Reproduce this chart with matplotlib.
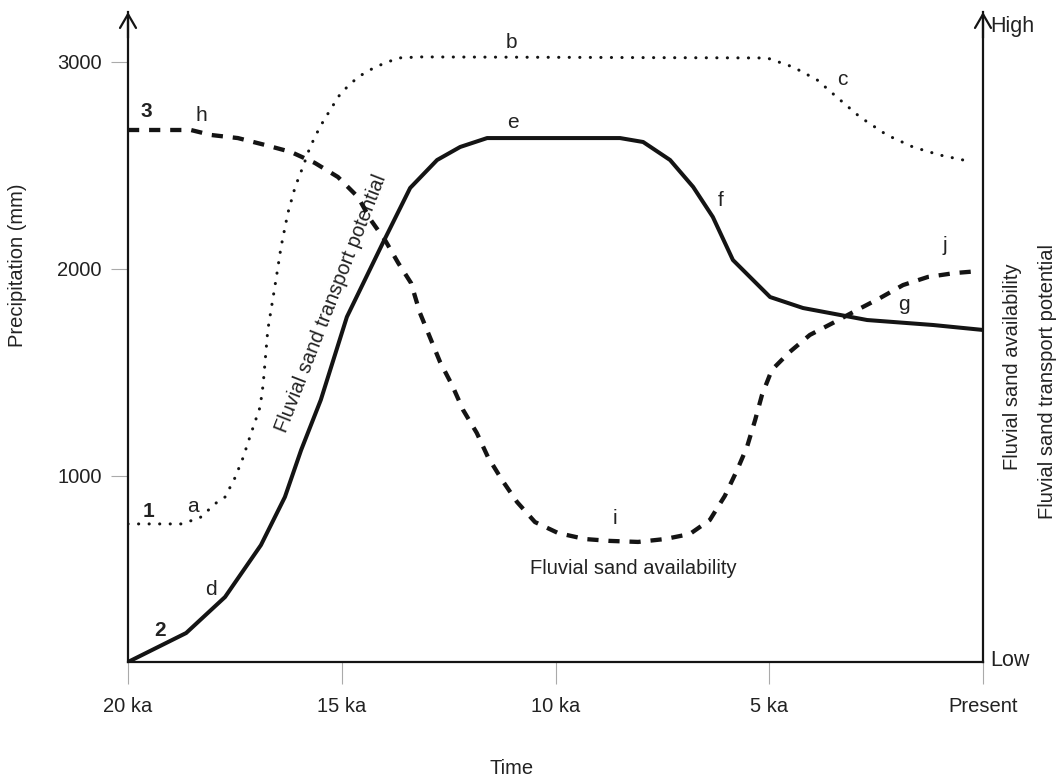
import matplotlib
matplotlib.use('Agg')
import matplotlib.pyplot as plt

plt.rcParams['font.family'] = ['Liberation Sans', 'DejaVu Sans']

# ---- data (time in ka before present, precipitation in mm) ----
precip_t = [20.0, 18.64, 17.73, 16.89, 16.33, 15.95, 15.49, 14.88, 14.04, 13.40,
            12.77, 12.23, 11.60, 8.49, 7.95, 7.32, 6.78, 6.32, 5.85, 4.98,
            4.21, 2.71, 1.17, 0.0]
precip_mm = [100, 240, 414, 665, 897, 1124, 1366, 1767, 2124, 2390,
             2525, 2588, 2631, 2631, 2612, 2525, 2395, 2250, 2042, 1863,
             1810, 1752, 1728, 1704]

transport_t = [20.0, 18.76, 18.32, 17.94, 17.73, 17.50, 17.31, 17.15, 16.91, 16.84,
               16.73, 16.54, 16.42, 16.26, 16.09, 15.91, 15.74, 15.51, 15.27, 15.02,
               14.62, 14.22, 13.68, 13.15, 5.05, 4.44, 3.88, 3.42, 2.88, 2.25,
               1.64, 1.01, 0.35]
transport_v = [767, 767, 796, 868, 897, 989, 1086, 1187, 1332, 1438,
               1704, 1945, 2105, 2269, 2395, 2491, 2588, 2685, 2767, 2849,
               2926, 2974, 3018, 3023, 3018, 2974, 2912, 2829, 2733, 2646,
               2588, 2549, 2520]

avail_t = [20.0, 18.53, 18.06, 17.43, 16.80, 16.19, 15.63, 15.09, 14.62, 14.32,
           13.99, 13.68, 13.38, 13.17, 12.94, 12.70, 12.42, 12.16, 11.84, 11.58,
           11.25, 10.90, 10.48, 9.94, 9.31, 8.73, 8.07, 7.44, 6.86, 6.39,
           6.04, 5.75, 5.52, 5.33, 5.17, 4.94, 4.52, 4.05, 3.51, 2.95,
           2.41, 1.87, 1.29, 0.66, 0.07]
avail_v = [2670, 2670, 2646, 2631, 2598, 2564, 2511, 2443, 2346, 2235,
           2139, 2028, 1931, 1786, 1670, 1549, 1438, 1317, 1206, 1090,
           979, 873, 776, 723, 694, 685, 680, 694, 718, 786,
           902, 1028, 1139, 1269, 1390, 1511, 1598, 1680, 1738, 1800,
           1858, 1921, 1960, 1979, 1989]

x_ticks = [20, 15, 10, 5, 0]
x_labels = ['20 ka', '15 ka', '10 ka', '5 ka', 'Present']
y_ticks = [1000, 2000, 3000]

# curve letter labels: (text, t, value, bold)
letters = [('3', 19.56, 2757, True), ('h', 18.29, 2738, False),
           ('b', 11.02, 3095, False), ('c', 3.28, 2912, False),
           ('e', 11.0, 2704, False), ('f', 6.13, 2327, False),
           ('j', 0.89, 2114, False), ('g', 1.85, 1825, False),
           ('i', 8.61, 791, False), ('1', 19.51, 829, True),
           ('a', 18.48, 849, False), ('d', 18.06, 448, False),
           ('2', 19.25, 250, True)]

INK = '#141414'
W, H = 1061, 778
fig = plt.figure(figsize=(W / 100, H / 100), dpi=100)
ax = fig.add_axes([128 / W, (H - 662) / H, (983 - 128) / W, (662 - 12) / H])
ax.set_xlim(20, 0)
ax.set_ylim(100, 3240)

ax.plot(transport_t, transport_v, color=INK, lw=2.2, linestyle=(0, (0.05, 3.4)),
        dash_capstyle='round', zorder=2)
ax.plot(precip_t, precip_mm, color=INK, lw=2.9, solid_joinstyle='round', zorder=3)
ax.plot(avail_t, avail_v, color=INK, lw=3.1, linestyle=(0, (2.6, 2.3)),
        dash_capstyle='butt', zorder=4)

for s in ['left', 'right', 'bottom']:
    ax.spines[s].set_linewidth(1.6)
    ax.spines[s].set_color(INK)
ax.spines['top'].set_visible(False)

for xa in (0, 1):
    ax.annotate('', xy=(xa, 1.0), xytext=(xa, 0.96), xycoords='axes fraction',
                arrowprops=dict(arrowstyle='->,head_length=0.55,head_width=0.32',
                                lw=1.6, color=INK, shrinkA=0, shrinkB=0,
                                mutation_scale=18))

ax.set_xticks(x_ticks)
ax.set_xticklabels(x_labels)
ax.set_yticks(y_ticks)
ax.tick_params(axis='x', direction='out', length=16, width=0.8, color='#aaaaaa',
               pad=9, labelsize=14.5, labelcolor='#222222')
ax.tick_params(axis='y', direction='out', length=12, width=0.8, color='#aaaaaa',
               pad=7, labelsize=14.5, labelcolor='#222222')
ax.tick_params(right=False, top=False)

for txt, t, v, bold in letters:
    ax.text(t, v, txt, ha='center', va='center', fontsize=15, color='#222222',
            fontweight='bold' if bold else 'normal')

ax.text(15.25, 1834, 'Fluvial sand transport potential', rotation=68.7,
        rotation_mode='anchor', ha='center', va='center', fontsize=14.5,
        color='#222222')
ax.text(8.19, 554, 'Fluvial sand availability', ha='center', va='center',
        fontsize=14.5, color='#222222')

ax.text(1.008, 0.977, 'High', transform=ax.transAxes, ha='left', va='center',
        fontsize=15.5, color='#222222')
ax.text(1.008, 0.003, 'Low', transform=ax.transAxes, ha='left', va='center',
        fontsize=15.5, color='#222222')
ax.text(1.034, 0.454, 'Fluvial sand availability', transform=ax.transAxes,
        rotation=90, ha='center', va='center', fontsize=14.5, color='#222222')
ax.text(1.075, 0.432, 'Fluvial sand transport potential', transform=ax.transAxes,
        rotation=90, ha='center', va='center', fontsize=14.5, color='#222222')

fig.text(18 / W, 1 - 265 / H, 'Precipitation (mm)', rotation=90, ha='center',
         va='center', fontsize=14.5, color='#222222')
fig.text(512 / W, 1 - 768 / H, 'Time', ha='center', va='center', fontsize=14.5,
         color='#222222')

fig.savefig('out.png', dpi=100)
